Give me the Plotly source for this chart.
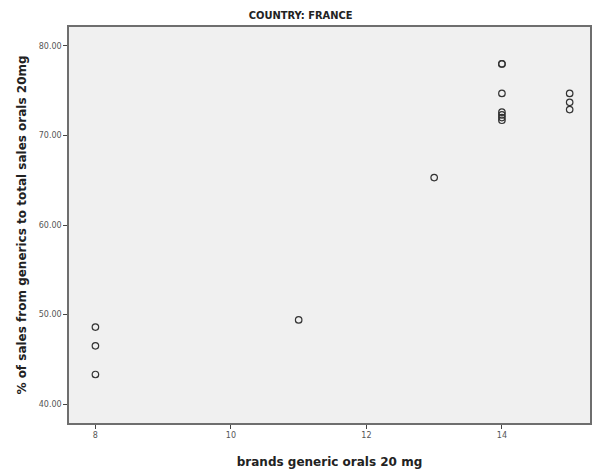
import plotly.graph_objects as go

# Brands of generic orals 20 mg vs. generic share of sales (France)
brands = [8, 8, 8, 11, 13, 14, 14, 14, 14, 14, 14, 14, 15, 15, 15]
generic_share = [48.6, 46.5, 43.3, 49.4, 65.3, 78.0, 74.7, 72.6, 72.3, 72.0, 71.7, 78.0, 74.7, 73.7, 72.9]

x_ticks = [8, 10, 12, 14]
y_ticks = [40, 50, 60, 70, 80]

fig = go.Figure(
    go.Scatter(
        x=brands,
        y=generic_share,
        mode="markers",
        marker=dict(symbol="circle-open", size=6.5, color="#333333", line=dict(width=1.2)),
        showlegend=False,
    )
)

axis_common = dict(
    showgrid=False,
    zeroline=False,
    showline=True,
    linecolor="#6e6e6e",
    linewidth=1.5,
    mirror=True,
    ticks="outside",
    ticklen=4,
    tickcolor="#444444",
    tickfont=dict(family="DejaVu Sans", size=8, color="#555555"),
)

fig.update_xaxes(
    range=[7.61, 15.3],
    tickvals=x_ticks,
    ticktext=[str(t) for t in x_ticks],
    title=dict(text="<b>brands generic orals 20 mg</b>",
               font=dict(family="DejaVu Sans", size=12, color="#222222"), standoff=18),
    **axis_common,
)
fig.update_yaxes(
    range=[37.88, 82.12],
    tickvals=y_ticks,
    ticktext=[f"{t:.2f}" for t in y_ticks],
    title=dict(text="<b>% of sales from generics to total sales orals 20mg</b>",
               font=dict(family="DejaVu Sans", size=12, color="#222222"), standoff=10),
    **axis_common,
)

fig.update_layout(
    width=592,
    height=472,
    margin=dict(l=69, r=0, t=27, b=49),
    paper_bgcolor="white",
    plot_bgcolor="#f0f0f0",
    title=dict(text="<b>COUNTRY: FRANCE</b>", x=0.508, xanchor="center", y=0.968, yanchor="middle",
               font=dict(family="DejaVu Sans Condensed", size=11, color="#222222")),
)

fig.write_html("out.html")
